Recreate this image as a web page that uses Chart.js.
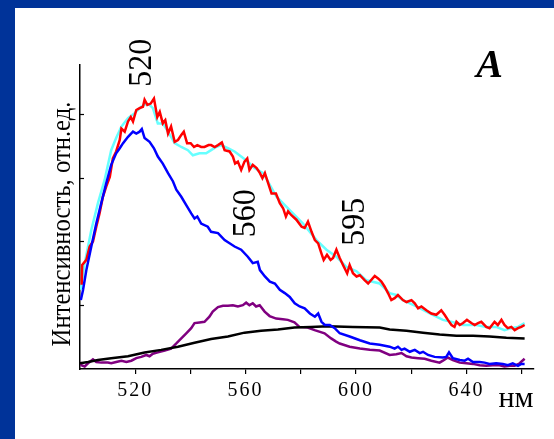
<!DOCTYPE html>
<html>
<head>
<meta charset="utf-8">
<script src="https://cdn.jsdelivr.net/npm/chart.js@4"></script>
<style>
    html, body { margin: 0; padding: 0; width: 554px; height: 439px; overflow: hidden; background: #003399; }
    #panel { position: absolute; left: 15px; top: 8px; width: 539px; height: 431px; background: #fff; }
</style>
</head>
<body>
<div id="panel"><canvas id="chart"></canvas></div>
<script>
// спектры: [длина волны, нм ; интенсивность, отн.ед.]
const redSpectrum = [
    [500.6,1.32],[500.8,1.63],[502.3,1.71],[503.5,1.92],[504.7,2.00],[505.9,2.23],[507.1,2.44],[508.3,2.70],
    [509.5,2.86],[510.8,3.01],[511.9,3.30],[513.1,3.41],[514.4,3.59],[515.0,3.77],[516.2,3.72],[517.4,3.88],
    [518.4,3.95],[519.2,3.88],[520.4,4.06],[521.6,4.09],[522.8,4.11],[523.4,4.22],[524.4,4.14],[525.6,4.16],
    [526.8,4.24],[528.0,3.95],[528.9,4.03],[530.0,3.85],[530.9,3.90],[531.9,3.69],[533.0,3.80],[534.3,3.56],
    [535.5,3.59],[536.7,3.67],[537.6,3.72],[538.8,3.54],[540.1,3.54],[541.3,3.48],[542.5,3.51],[543.9,3.48],
    [545.1,3.48],[546.6,3.51],[547.5,3.51],[548.8,3.48],[550.0,3.51],[551.4,3.55],[552.4,3.43],[554.2,3.41],
    [555.4,3.33],[556.2,3.22],[557.2,3.25],[558.4,3.12],[559.6,3.25],[560.6,3.30],[561.4,3.12],[562.6,3.20],
    [564.0,3.15],[565.2,3.07],[566.1,2.99],[567.0,3.07],[568.2,2.91],[569.4,2.75],[571.0,2.75],[572.4,2.60],
    [573.6,2.52],[574.6,2.39],[575.4,2.47],[576.6,2.41],[578.4,2.34],[580.3,2.23],[581.4,2.21],[582.6,2.31],
    [583.9,2.15],[585.1,2.02],[586.3,1.97],[587.5,1.81],[588.3,1.71],[589.5,1.79],[590.8,1.71],[591.7,1.74],
    [592.9,1.87],[594.1,1.74],[595.3,1.63],[596.8,1.50],[597.7,1.63],[598.9,1.50],[600.2,1.45],[601.4,1.47],
    [603.2,1.39],[604.4,1.34],[606.8,1.46],[608.0,1.42],[609.2,1.37],[610.4,1.29],[611.6,1.19],[612.8,1.08],
    [614.0,1.11],[615.2,1.16],[617.0,1.08],[618.3,1.05],[620.1,1.08],[621.3,1.03],[622.5,0.95],[623.7,0.98],
    [625.5,0.92],[627.3,0.87],[629.1,0.85],[630.9,0.92],[632.1,0.85],[633.3,0.77],[634.6,0.69],[635.7,0.66],
    [636.4,0.74],[637.6,0.69],[638.8,0.72],[640.2,0.77],[641.8,0.72],[643.0,0.69],[644.2,0.72],[645.4,0.74],
    [647.2,0.66],[648.4,0.64],[650.2,0.74],[651.4,0.69],[652.7,0.77],[653.8,0.69],[655.0,0.64],[656.3,0.66],
    [657.5,0.61],[658.7,0.64],[659.9,0.66],[661.1,0.69]
];

const cyanSpectrum = [
    [500.3,1.24],[501.7,1.66],[504.1,2.18],[506.5,2.60],[508.9,2.96],[511.3,3.43],[513.1,3.62],[515.0,3.80],
    [517.4,3.93],[519.8,4.01],[522.2,4.11],[524.0,4.16],[525.2,4.14],[526.4,4.09],[528.2,3.85],[530.0,3.85],
    [531.9,3.72],[534.3,3.54],[536.7,3.48],[539.1,3.43],[540.9,3.35],[543.3,3.38],[545.7,3.38],[547.5,3.43],
    [549.3,3.48],[551.1,3.51],[553.6,3.46],[556.0,3.41],[558.4,3.33],[560.8,3.25],[563.2,3.15],[566.4,3.07],
    [571.2,2.70],[576.0,2.49],[580.8,2.28],[585.7,2.02],[589.3,1.87],[592.9,1.76],[596.5,1.60],[600.2,1.53],
    [603.8,1.39],[608.6,1.34],[612.2,1.19],[614.6,1.16],[617.0,1.08],[621.9,0.98],[626.7,0.87],[631.5,0.77],
    [634.5,0.74],[638.8,0.69],[643.6,0.69],[647.2,0.66],[650.8,0.66],[653.8,0.61],[656.3,0.64],[658.7,0.66],
    [661.1,0.72]
];

const blueSpectrum = [
    [500.3,1.08],[501.1,1.24],[502.3,1.55],[504.1,1.92],[505.9,2.28],[507.7,2.60],[509.5,2.91],[511.3,3.20],
    [513.1,3.38],[514.4,3.46],[515.6,3.54],[517.4,3.64],[519.2,3.72],[520.4,3.69],[521.6,3.72],[522.4,3.76],
    [523.4,3.62],[525.2,3.56],[526.8,3.46],[528.2,3.33],[530.0,3.22],[531.9,3.07],[533.7,2.94],[534.9,2.81],
    [536.7,2.70],[538.5,2.57],[540.3,2.44],[541.5,2.36],[542.5,2.39],[543.9,2.28],[546.3,2.23],[547.5,2.15],
    [550.0,2.13],[552.4,2.02],[554.2,1.97],[556.0,1.92],[558.4,1.87],[560.8,1.76],[562.6,1.66],[564.4,1.68],
    [565.2,1.55],[567.0,1.45],[568.8,1.37],[570.6,1.34],[572.4,1.24],[574.2,1.19],[576.0,1.13],[577.8,1.03],
    [579.6,0.98],[581.4,0.95],[583.3,0.87],[585.1,0.82],[586.3,0.87],[587.5,0.74],[588.7,0.69],[590.5,0.69],
    [592.3,0.64],[594.1,0.56],[597.7,0.51],[601.4,0.45],[605.0,0.40],[608.6,0.38],[612.2,0.35],[614.0,0.32],
    [615.2,0.35],[616.5,0.30],[617.6,0.32],[619.5,0.27],[621.3,0.30],[623.1,0.25],[624.3,0.27],[626.1,0.22],
    [628.5,0.19],[631.5,0.18],[632.7,0.19],[633.7,0.26],[635.1,0.17],[637.6,0.14],[639.4,0.13],[640.6,0.16],
    [642.4,0.11],[644.8,0.11],[646.6,0.10],[648.4,0.08],[650.8,0.09],[653.2,0.08],[655.0,0.06],[656.8,0.09],
    [658.7,0.05],[659.9,0.08],[661.1,0.08]
];

const purpleSpectrum = [
    [500.0,0.11],[500.5,0.06],[501.7,0.04],[502.9,0.09],[504.7,0.15],[505.9,0.11],[507.7,0.10],[510.1,0.10],
    [511.3,0.09],[513.1,0.11],[515.0,0.13],[516.8,0.11],[518.6,0.13],[520.4,0.17],[522.2,0.19],[524.0,0.22],
    [525.2,0.20],[526.4,0.24],[528.2,0.26],[530.7,0.29],[533.0,0.32],[534.9,0.40],[536.7,0.48],[538.5,0.56],
    [540.3,0.64],[541.5,0.72],[543.3,0.73],[545.1,0.74],[546.9,0.82],[548.1,0.90],[550.0,0.97],[551.8,0.99],
    [553.6,0.99],[555.4,1.00],[557.2,0.98],[559.0,1.00],[560.2,1.04],[561.4,1.00],[562.6,1.03],[563.8,0.98],
    [565.1,1.00],[566.9,0.90],[568.7,0.83],[571.1,0.79],[573.5,0.78],[575.3,0.77],[577.7,0.73],[579.5,0.66],
    [582.5,0.65],[585.0,0.61],[588.6,0.56],[591.0,0.48],[592.8,0.43],[594.1,0.40],[597.7,0.35],[601.4,0.32],
    [605.0,0.30],[608.6,0.29],[612.2,0.22],[614.6,0.23],[616.5,0.25],[618.3,0.20],[620.1,0.18],[622.5,0.17],
    [624.9,0.16],[627.3,0.13],[630.3,0.10],[631.5,0.13],[633.3,0.18],[635.1,0.14],[637.6,0.10],[640.0,0.09],
    [642.4,0.08],[644.8,0.06],[647.2,0.05],[649.6,0.06],[652.0,0.06],[653.8,0.04],[655.7,0.05],[657.5,0.05],
    [659.3,0.09],[661.1,0.16]
];

const blackSpectrum = [
    [500.0,0.09],[502.9,0.11],[506.5,0.14],[511.3,0.17],[517.4,0.20],[523.4,0.26],[529.4,0.30],[535.5,0.35],
    [541.5,0.41],[547.5,0.47],[553.6,0.51],[559.6,0.57],[565.6,0.60],[571.7,0.62],[577.7,0.65],[583.7,0.66],
    [589.8,0.67],[598.9,0.66],[608.6,0.65],[612.2,0.62],[618.3,0.60],[624.3,0.57],[630.3,0.54],[636.4,0.52],
    [642.4,0.52],[648.4,0.51],[654.5,0.49],[661.1,0.48]
];

const xTicks = [520, 540, 560, 580, 600, 620, 640, 660];
const xLabelled = [520, 560, 600, 640];
const yTicks = [1, 2, 3, 4];

// подписи пиков и их положение (нм, отн.ед.)
const peakLabels = ["520", "560", "595"];
const peakPlaces = [[522.6, 4.80], [560.3, 2.44], [599.5, 2.31]];

const yTitle = "Интенсивность, отн.ед.";
const xUnit = "нм";
const panelLetter = "A";

const SERIF = '"Liberation Serif", "Times New Roman", serif';

function toPoints(arr) {
    return arr.map(p => ({ x: p[0], y: p[1] }));
}

// повернутый текст
function drawRotated(ctx, text, x, y, size, stretch, baseline) {
    ctx.save();
    ctx.translate(x, y);
    ctx.rotate(-Math.PI / 2);
    ctx.scale(1, stretch);
    ctx.font = size + "px " + SERIF;
    ctx.textAlign = "center";
    ctx.textBaseline = baseline;
    ctx.fillText(text, 0, 0);
    ctx.restore();
}

const spacingPlugin = {
    id: "spacing",
    beforeDraw(chart) {
        chart.ctx.letterSpacing = "2px";
    }
};

const textPlugin = {
    id: "texts",
    afterDraw(chart) {
        const { ctx, chartArea } = chart;
        const x = chart.scales.x;
        const y = chart.scales.y;
        ctx.save();
        ctx.letterSpacing = "0px";
        ctx.fillStyle = "#000";
        ctx.strokeStyle = "#000";
        ctx.lineWidth = 1.2;

        // засечки внутрь оси Y
        yTicks.forEach(v => {
            const py = Math.round(y.getPixelForValue(v)) + 0.5;
            ctx.beginPath();
            ctx.moveTo(chartArea.left, py);
            ctx.lineTo(chartArea.left + 4, py);
            ctx.stroke();
        });

        peakLabels.forEach((t, i) => {
            const px = x.getPixelForValue(peakPlaces[i][0]);
            const py = y.getPixelForValue(peakPlaces[i][1]);
            drawRotated(ctx, t, px, py, 32, 1.07, "middle");
        });

        drawRotated(ctx, yTitle, 55, 216, 24.7, 1.11, "alphabetic");

        ctx.font = "30px " + SERIF;
        ctx.textAlign = "center";
        ctx.textBaseline = "alphabetic";
        ctx.fillText(xUnit, 501, 398.5);

        ctx.font = "italic bold 40px " + SERIF;
        ctx.fillText(panelLetter, 474.5, 69);
        ctx.restore();
    }
};

const ctx = document.getElementById("chart").getContext("2d");

new Chart(ctx, {
    type: "line",
    data: {
        datasets: [
            { data: toPoints(blueSpectrum), borderColor: "#0000ff" },
            { data: toPoints(redSpectrum), borderColor: "#ff0000" },
            { data: toPoints(cyanSpectrum), borderColor: "#66ffff" },
            { data: toPoints(blackSpectrum), borderColor: "#000000" },
            { data: toPoints(purpleSpectrum), borderColor: "#800080" }
        ]
    },
    options: {
        responsive: true,
        maintainAspectRatio: false,
        animation: false,
        layout: { padding: { left: 0, top: 57, right: 20, bottom: 0 } },
        plugins: { legend: { display: false }, tooltip: { enabled: false } },
        elements: {
            line: { tension: 0, borderWidth: 2.5, fill: false },
            point: { radius: 0 }
        },
        scales: {
            x: {
                type: "linear",
                min: 500,
                max: 664.5,
                afterBuildTicks: scale => { scale.ticks = xTicks.map(v => ({ value: v })); },
                afterFit: scale => { scale.height = 70; },
                grid: { drawOnChartArea: false, color: "#000", tickLength: 5, lineWidth: 1.2 },
                border: { color: "#000", width: 1.5 },
                ticks: {
                    color: "#000",
                    font: { family: SERIF, size: 20 },
                    padding: 5,
                    maxRotation: 0,
                    autoSkip: false,
                    callback: v => xLabelled.includes(v) ? String(v) : ""
                }
            },
            y: {
                min: 0,
                max: 4.765,
                afterFit: scale => { scale.width = 65; },
                ticks: { display: false, stepSize: 1 },
                grid: { display: false },
                border: { color: "#000", width: 1.5 }
            }
        }
    },
    plugins: [spacingPlugin, textPlugin]
});
</script>
</body>
</html>
